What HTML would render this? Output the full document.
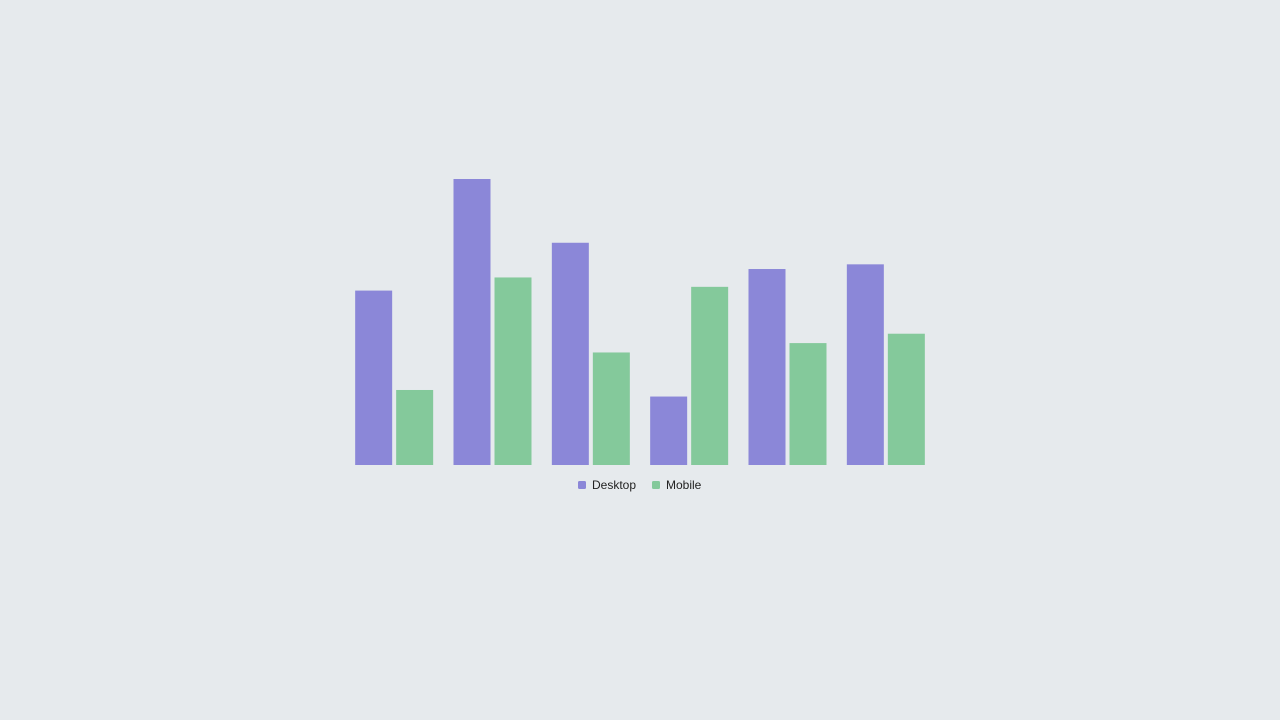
<!DOCTYPE html>
<html><head><meta charset="utf-8"><style>
html,body{margin:0;padding:0;width:1280px;height:720px;background:#e6eaed;overflow:hidden;font-family:"Liberation Sans",sans-serif}
svg{position:absolute;left:0;top:0}
</style></head><body>
<svg width="1280" height="720">
<g id="bars"></g>
<g>
<g><rect x="578" y="481" width="8" height="8" rx="1.5" fill="#8b87d8"/><text x="592" y="489" font-size="12" fill="#222">Desktop</text></g>
<g><rect x="652" y="481" width="8" height="8" rx="1.5" fill="#84c99b"/><text x="666" y="489" font-size="12" fill="#222">Mobile</text></g>
</g>
</svg>
<script>
const months = ["January","February","March","April","May","June"];
const desktop = [186,305,237,73,209,214];
const mobile = [80,200,120,190,130,140];
const yMax = 305;
const plotTop = 179, plotBottom = 465, plotLeft = 345, plotRight = 935;
const y = v => plotBottom - (v / yMax) * (plotBottom - plotTop);
const band = (plotRight - plotLeft) / months.length;
const barW = 37, gap = 4;
const g = document.getElementById('bars');
const NS = 'http://www.w3.org/2000/svg';
months.forEach((m, i) => {
  const x0 = plotLeft + i * band + (band - 2 * barW - gap) / 2;
  [[desktop[i], '#8b87d8', 'desktop'], [mobile[i], '#84c99b', 'mobile']].forEach(([v, c, s], j) => {
    const r = document.createElementNS(NS, 'rect');
    r.setAttribute('x', x0 + j * (barW + gap));
    r.setAttribute('y', y(v));
    r.setAttribute('width', barW);
    r.setAttribute('height', plotBottom - y(v));
    r.setAttribute('fill', c);
    
    
    g.appendChild(r);
  });
});
</script>
</body></html>
